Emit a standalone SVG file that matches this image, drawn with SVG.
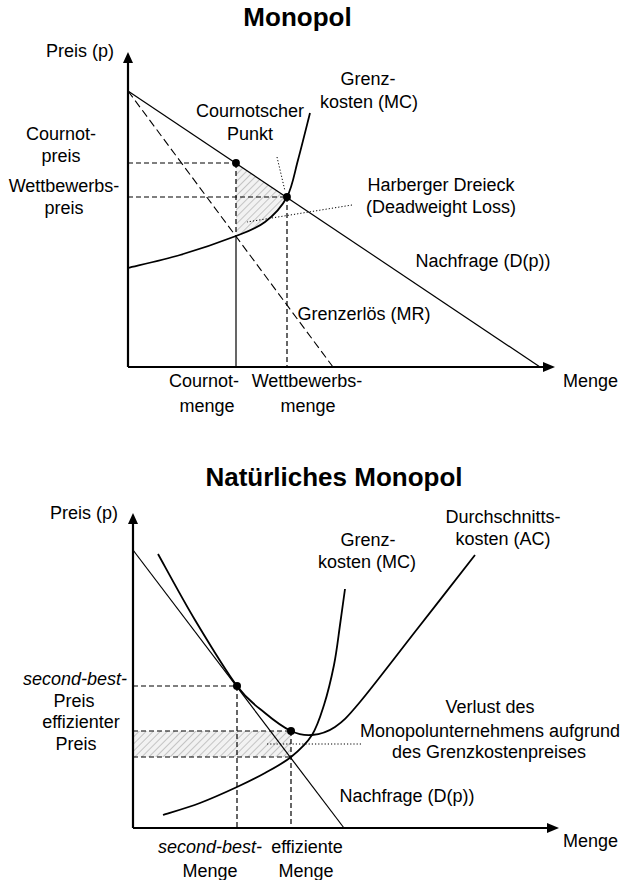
<svg xmlns="http://www.w3.org/2000/svg" width="624" height="880" viewBox="0 0 624 880">
<style>
text{font-family:"Liberation Sans",Arial,Helvetica,sans-serif;font-size:18px;fill:#000}
.title{font-size:26px;font-weight:bold}
.it{font-style:italic}
.axis{stroke:#000;stroke-width:2.2;fill:none}
.curve{stroke:#000;stroke-width:1.8;fill:none}
.thin{stroke:#000;stroke-width:1.2;fill:none}
.dash{stroke:#000;stroke-width:1.2;fill:none;stroke-dasharray:5,3}
.ldash{stroke:#000;stroke-width:1.1;fill:none;stroke-dasharray:8,4}
.dot{stroke:#000;stroke-width:1;fill:none;stroke-dasharray:1.2,2}
.pt{fill:#000}
.hatch{fill:url(#h);stroke:none}
</style>
<defs>
<pattern id="h" patternUnits="userSpaceOnUse" width="5" height="5" patternTransform="rotate(45)">
<rect width="5" height="5" fill="#f2f2f2"/>
<line x1="0" y1="0" x2="0" y2="5" stroke="#b8b8b8" stroke-width="1.6"/>
</pattern>
</defs>

<!-- ===== Top diagram: Monopol ===== -->
<g id="top-title"><text class="title" x="297.5" y="26" text-anchor="middle">Monopol</text></g>

<g id="top-hatch"><path class="hatch" d="M236,163 L287,197 C281.5,207.3 273.5,215.5 265,222 C256.5,228.5 250.2,230.5 236,236 Z"/></g>

<g id="top-connectors">
<line class="dash" x1="128" y1="163" x2="236" y2="163"/>
<line class="dash" x1="128" y1="197" x2="287" y2="197"/>
<line class="dash" x1="236" y1="163" x2="236" y2="236"/>
<line class="thin" x1="236" y1="236" x2="236" y2="367"/>
<line class="dash" x1="287" y1="197" x2="287" y2="367"/>
<line class="dot" x1="277" y1="157" x2="285" y2="191"/>
<line class="dot" x1="352" y1="205" x2="247" y2="222"/>
</g>

<g id="top-axes">
<path class="axis" d="M128,367 L128,60 M128,367 L547,367"/>
<path class="pt" d="M128,52 L123,63 L133,63 Z"/>
<path class="pt" d="M555,367 L543,362 L543,372 Z"/>
</g>

<g id="top-demand"><line class="thin" x1="128" y1="91" x2="540" y2="367"/></g>
<g id="top-mr"><line class="ldash" x1="128" y1="91" x2="333" y2="367"/></g>
<g id="top-mc"><path class="curve" d="M128,268 C136.7,265.8 162,260.3 180,255 C198,249.7 221.8,241.5 236,236 C250.2,230.5 256.5,228.5 265,222 C273.5,215.5 281.5,207.3 287,197 C292.5,186.7 294.2,174 298,160 C301.8,146 308,120.8 310,113"/></g>

<g id="top-points">
<circle class="pt" cx="236" cy="163" r="3.9"/>
<circle class="pt" cx="287" cy="197" r="3.9"/>
</g>

<g id="top-labels">
<text x="80" y="57" text-anchor="middle">Preis (p)</text>
<text x="368" y="85" text-anchor="middle">Grenz-</text>
<text x="369" y="108" text-anchor="middle">kosten (MC)</text>
<text x="250" y="117" text-anchor="middle">Cournotscher</text>
<text x="250" y="140" text-anchor="middle">Punkt</text>
<text x="61" y="140" text-anchor="middle">Cournot-</text>
<text x="61" y="162" text-anchor="middle">preis</text>
<text x="64" y="192" text-anchor="middle">Wettbewerbs-</text>
<text x="64" y="214" text-anchor="middle">preis</text>
<text x="441" y="191" text-anchor="middle">Harberger Dreieck</text>
<text x="441" y="213" text-anchor="middle">(Deadweight Loss)</text>
<text x="483" y="267" text-anchor="middle">Nachfrage (D(p))</text>
<text x="364" y="320" text-anchor="middle">Grenzerlös (MR)</text>
<text x="563" y="387">Menge</text>
<text x="204" y="387" text-anchor="middle">Cournot-</text>
<text x="207" y="412" text-anchor="middle">menge</text>
<text x="307" y="387" text-anchor="middle">Wettbewerbs-</text>
<text x="308" y="412" text-anchor="middle">menge</text>
</g>

<!-- ===== Bottom diagram: Natürliches Monopol ===== -->
<g id="bottom-title"><text class="title" x="334" y="486" text-anchor="middle">Natürliches Monopol</text></g>

<g id="bottom-hatch"><rect class="hatch" x="134" y="731" width="157" height="26"/></g>

<g id="bottom-connectors">
<line class="dash" x1="133" y1="686" x2="237" y2="686"/>
<line class="dash" x1="133" y1="731" x2="291" y2="731"/>
<line class="dash" x1="133" y1="757" x2="291" y2="757"/>
<line class="dash" x1="237" y1="686" x2="237" y2="828"/>
<line class="dash" x1="291" y1="731" x2="291" y2="828"/>
<line class="dot" x1="267" y1="744" x2="363" y2="744"/>
</g>

<g id="bottom-axes">
<path class="axis" d="M133,828 L133,521 M133,828 L551,828"/>
<path class="pt" d="M133,513 L128,524 L138,524 Z"/>
<path class="pt" d="M559,828 L547,823 L547,833 Z"/>
</g>

<g id="bottom-demand"><line class="thin" x1="133" y1="550" x2="344" y2="828"/></g>
<g id="bottom-ac"><path class="curve" d="M158,554 C164.2,565 181.8,598 195,620 C208.2,642 225.3,670.5 237,686 C248.7,701.5 256,705.5 265,713 C274,720.5 283.2,727.3 291,731 C298.8,734.7 304.7,735.7 312,735 C319.3,734.3 327,732.5 335,727 C343,721.5 346.2,718.5 360,702 C373.8,685.5 398.8,652.5 418,628 C437.2,603.5 465.5,567.2 475,555"/></g>
<g id="bottom-mc"><path class="curve" d="M163,815 C169.2,813 187.7,807.7 200,803 C212.3,798.3 226.2,792 237,787 C247.8,782 256,778 265,773 C274,768 283.2,763.3 291,757 C298.8,750.7 306.5,743.7 312,735 C317.5,726.3 320.3,716.7 324,705 C327.7,693.3 331.3,678.3 334,665 C336.7,651.7 338.2,637.7 340,625 C341.8,612.3 344.2,595 345,589"/></g>

<g id="bottom-points">
<circle class="pt" cx="237" cy="686" r="4"/>
<circle class="pt" cx="291" cy="731" r="4"/>
</g>

<g id="bottom-labels">
<text x="84" y="519" text-anchor="middle">Preis (p)</text>
<text x="368" y="546" text-anchor="middle">Grenz-</text>
<text x="367" y="568" text-anchor="middle">kosten (MC)</text>
<text x="503" y="523" text-anchor="middle">Durchschnitts-</text>
<text x="503" y="545" text-anchor="middle">kosten (AC)</text>
<text x="75" y="685" text-anchor="middle" class="it">second-best-</text>
<text x="74" y="707" text-anchor="middle">Preis</text>
<text x="81" y="728" text-anchor="middle">effizienter</text>
<text x="76" y="750" text-anchor="middle">Preis</text>
<text x="490" y="713" text-anchor="middle">Verlust des</text>
<text x="490" y="737" text-anchor="middle">Monopolunternehmens aufgrund</text>
<text x="489" y="758" text-anchor="middle">des Grenzkostenpreises</text>
<text x="407" y="802" text-anchor="middle">Nachfrage (D(p))</text>
<text x="563" y="847">Menge</text>
<text x="210" y="853" text-anchor="middle" class="it">second-best-</text>
<text x="210" y="877" text-anchor="middle">Menge</text>
<text x="307" y="853" text-anchor="middle">effiziente</text>
<text x="306" y="877" text-anchor="middle">Menge</text>
</g>
</svg>
